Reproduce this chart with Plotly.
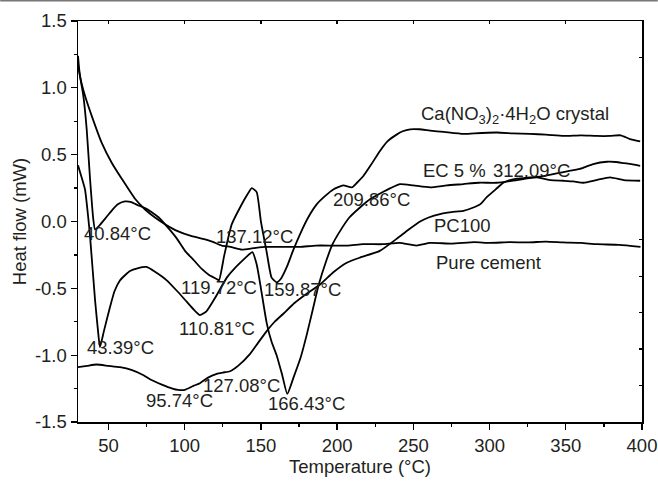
import plotly.graph_objects as go

# ---------------- data ----------------
pure_x = [30, 31.3, 34.6, 39, 45.5, 52.1, 58.7, 67.4, 74, 80.5, 87.1, 95, 104.6, 112, 118, 124.3,
          130, 137.5, 145, 152.7, 160, 168, 175.7, 186, 197, 207, 217, 230, 241, 252, 261, 275,
          290, 300, 313, 326, 337, 348, 360, 370.5, 385, 399]
pure_y = [1.24, 1.09, 0.94, 0.79, 0.59, 0.44, 0.32, 0.17, 0.09, 0.03, -0.02, -0.07, -0.11, -0.13,
          -0.15, -0.18, -0.19, -0.21, -0.20, -0.19, -0.19, -0.19, -0.19, -0.18, -0.18, -0.18, -0.17,
          -0.17, -0.16, -0.18, -0.16, -0.165, -0.155, -0.16, -0.155, -0.156, -0.15, -0.156, -0.16,
          -0.17, -0.175, -0.19]

crys_x = [30, 33.5, 35.7, 37.9, 40, 41.2, 44, 47.7, 52, 56.4, 60.8, 65, 69.6, 74, 78.4, 83, 89.3,
          95, 100.2, 106, 111.2, 116, 121, 122.5, 126, 130.9, 137, 141, 144, 147.2, 150, 153.8,
          157, 160.3, 163, 167, 171, 175.7, 181, 186.7, 192, 197.5, 204, 209.6, 213, 217.2, 222,
          228.2, 233, 239, 243, 247.9, 254, 261, 270, 282.8, 290, 304.7, 315, 326.6, 337, 348.5,
          360, 370, 379, 386, 392, 398.8]
crys_y = [1.17, 0.94, 0.69, 0.32, 0.02, -0.06, -0.03, 0.02, 0.08, 0.13, 0.15, 0.145, 0.12, 0.10,
          0.07, 0.03, -0.05, -0.13, -0.22, -0.29, -0.355, -0.40, -0.43, -0.44, -0.25, -0.02, 0.12,
          0.20, 0.25, 0.22, 0.0, -0.23, -0.42, -0.455, -0.43, -0.34, -0.22, -0.094, 0.03, 0.13,
          0.19, 0.24, 0.27, 0.255, 0.29, 0.34, 0.42, 0.53, 0.60, 0.65, 0.675, 0.69, 0.69, 0.68,
          0.67, 0.655, 0.66, 0.666, 0.66, 0.655, 0.65, 0.64, 0.645, 0.64, 0.64, 0.645, 0.617, 0.60]

ec_x = [30, 32.4, 34.6, 36.8, 37.9, 41.2, 43.4, 44.4, 47, 51, 54, 57.6, 61, 64.1, 69, 75, 81, 88.2,
        95, 101.3, 106, 110, 114.4, 120, 127.6, 132, 136.3, 140, 144.4, 147.2, 150, 153.8, 157,
        160.3, 164, 167.3, 171.3, 176, 180, 184, 188, 193, 197, 202, 208, 215, 222, 228.2, 235,
        241.3, 250, 261, 272, 282.8, 293, 304.7, 318, 331, 340, 348.5, 355, 361.6, 370, 379, 388,
        398.8]
ec_y = [0.42, 0.33, 0.24, 0.02, -0.11, -0.59, -0.85, -0.94, -0.82, -0.64, -0.52, -0.44, -0.40,
        -0.37, -0.35, -0.34, -0.38, -0.44, -0.52, -0.60, -0.66, -0.70, -0.67, -0.57, -0.42, -0.36,
        -0.31, -0.27, -0.23, -0.32, -0.50, -0.76, -0.90, -1.00, -1.15, -1.29, -1.17, -1.02, -0.85,
        -0.66, -0.47, -0.29, -0.17, -0.07, 0.03, 0.105, 0.17, 0.21, 0.25, 0.28, 0.27, 0.255, 0.27,
        0.28, 0.29, 0.29, 0.31, 0.33, 0.31, 0.305, 0.30, 0.29, 0.31, 0.33, 0.31, 0.305]

pc_x = [30, 36, 42.2, 50, 57.6, 65, 73, 77.2, 85, 92, 95.7, 100, 105.7, 110, 115, 121, 125, 129.7,
        135, 142.9, 148, 153.8, 159, 164.7, 172, 180, 189, 197.5, 206, 215, 228, 239, 247, 254.4,
        260, 267.5, 275, 282.8, 289.4, 294, 298, 304, 309, 312, 317.8, 326, 335.4, 344, 353, 361,
        368, 377, 383, 388, 393, 398.8]
pc_y = [-1.09, -1.08, -1.07, -1.08, -1.09, -1.11, -1.15, -1.18, -1.22, -1.25, -1.26, -1.26, -1.23,
        -1.21, -1.17, -1.14, -1.13, -1.12, -1.08, -0.99, -0.91, -0.82, -0.75, -0.69, -0.61, -0.54,
        -0.47, -0.38, -0.31, -0.27, -0.22, -0.13, -0.06, 0.0, 0.03, 0.056, 0.07, 0.08, 0.105,
        0.13, 0.18, 0.24, 0.29, 0.305, 0.32, 0.33, 0.34, 0.36, 0.38, 0.40, 0.43, 0.447, 0.445,
        0.437, 0.43, 0.417]

label_text = ["40.84°C", "137.12°C", "119.72°C", "159.87°C", "110.81°C", "43.39°C", "95.74°C",
              "127.08°C", "166.43°C", "209.86°C", "EC 5 %", "312.09°C",
              "Ca(NO<sub>3</sub>)<sub>2</sub>·4H<sub>2</sub>O crystal", "PC100", "Pure cement"]
label_x = [55.6, 146.1, 122.5, 177.3, 121.0, 58.1, 96.4, 137.4, 180.0, 222.7, 276.7, 327.7,
           316.7, 282.3, 299.3]
label_y = [-0.093, -0.11, -0.49, -0.505, -0.797, -0.94, -1.34, -1.228, -1.365, 0.168, 0.38, 0.38,
           0.80, -0.03, -0.306]

x_ticks = [50, 100, 150, 200, 250, 300, 350, 400]
y_ticks = [-1.5, -1.0, -0.5, 0.0, 0.5, 1.0, 1.5]
y_ticktext = ["-1.5", "-1.0", "-0.5", "0.0", "0.5", "1.0", "1.5"]
right_ticks = [1, 2, 3, 4, 5, 10]

FONT = "Liberation Sans, Arial, sans-serif"
TXT = "#231f20"
FS = 18.5

fig = go.Figure()
for xs, ys, nm in [(pure_x, pure_y, "Pure cement"), (crys_x, crys_y, "Ca(NO3)2·4H2O crystal"),
                   (ec_x, ec_y, "EC 5 %"), (pc_x, pc_y, "PC100")]:
    fig.add_trace(go.Scatter(x=xs, y=ys, mode="lines", name=nm, showlegend=False,
                             line=dict(color="black", width=1.8, shape="spline", smoothing=0.5),
                             hoverinfo="skip"))

# dummy trace for the mirrored inner-tick axes
fig.add_trace(go.Scatter(x=[], y=[], xaxis="x2", yaxis="y2", showlegend=False, hoverinfo="skip"))

for t, xv, yv in zip(label_text, label_x, label_y):
    fig.add_annotation(x=xv, y=yv, text=t, showarrow=False, xanchor="center", yanchor="middle",
                       font=dict(family=FONT, size=FS, color=TXT))

# thin grey rule along the top edge of the picture
fig.add_shape(type="line", xref="paper", yref="paper", x0=-0.138, x1=1.028, y0=1.0504, y1=1.0504,
              line=dict(color="#777777", width=1.5))

fig.update_layout(
    template="none",
    width=658, height=482, autosize=False,
    margin=dict(l=78, r=16, t=21, b=60, pad=0),
    paper_bgcolor="white", plot_bgcolor="white",
    font=dict(family=FONT, size=FS, color=TXT),
    xaxis=dict(range=[30, 400], tickmode="array", tickvals=x_ticks, ticks="outside", ticklen=6,
               tickwidth=1.3, tickcolor="black", showline=True, linecolor="black", linewidth=1.5,
               mirror=True, showgrid=False, zeroline=False, automargin=False,
               minor=dict(tickmode="linear", tick0=25, dtick=25, ticks="outside", ticklen=3,
                          tickwidth=1.3, tickcolor="black", showgrid=False),
               title=dict(text="Temperature (°C)", standoff=4,
                          font=dict(family=FONT, size=FS, color=TXT)),
               tickfont=dict(family=FONT, size=FS, color=TXT)),
    yaxis=dict(range=[-1.5, 1.5], tickmode="array", tickvals=y_ticks, ticktext=y_ticktext,
               ticks="outside", ticklen=6, tickwidth=1.3, tickcolor="black", showline=True,
               linecolor="black", linewidth=1.5, mirror=True, showgrid=False, zeroline=False,
               automargin=False,
               minor=dict(tickmode="linear", tick0=-1.5, dtick=0.25, ticks="outside", ticklen=3,
                          tickwidth=1.3, tickcolor="black", showgrid=False),
               title=dict(text="Heat flow (mW)", standoff=3,
                          font=dict(family=FONT, size=FS, color=TXT)),
               tickfont=dict(family=FONT, size=FS, color=TXT)),
    xaxis2=dict(range=[30, 400], overlaying="x", side="top", anchor="y2", tickmode="array",
                tickvals=x_ticks, ticks="inside", ticklen=3, tickwidth=1.3, tickcolor="black",
                showticklabels=False, showgrid=False, zeroline=False, showline=False,
                automargin=False),
    yaxis2=dict(range=[0, 11], overlaying="y", side="right", anchor="x2", tickmode="array",
                tickvals=right_ticks, ticks="inside", ticklen=3, tickwidth=1.3, tickcolor="black",
                showticklabels=False, showgrid=False, zeroline=False, showline=False,
                automargin=False),
)

fig.write_html("out.html", config={"displayModeBar": False, "staticPlot": True},
               post_script="document.body.style.margin='0';document.body.style.padding='0';"
                           "document.body.style.overflow='hidden';")
